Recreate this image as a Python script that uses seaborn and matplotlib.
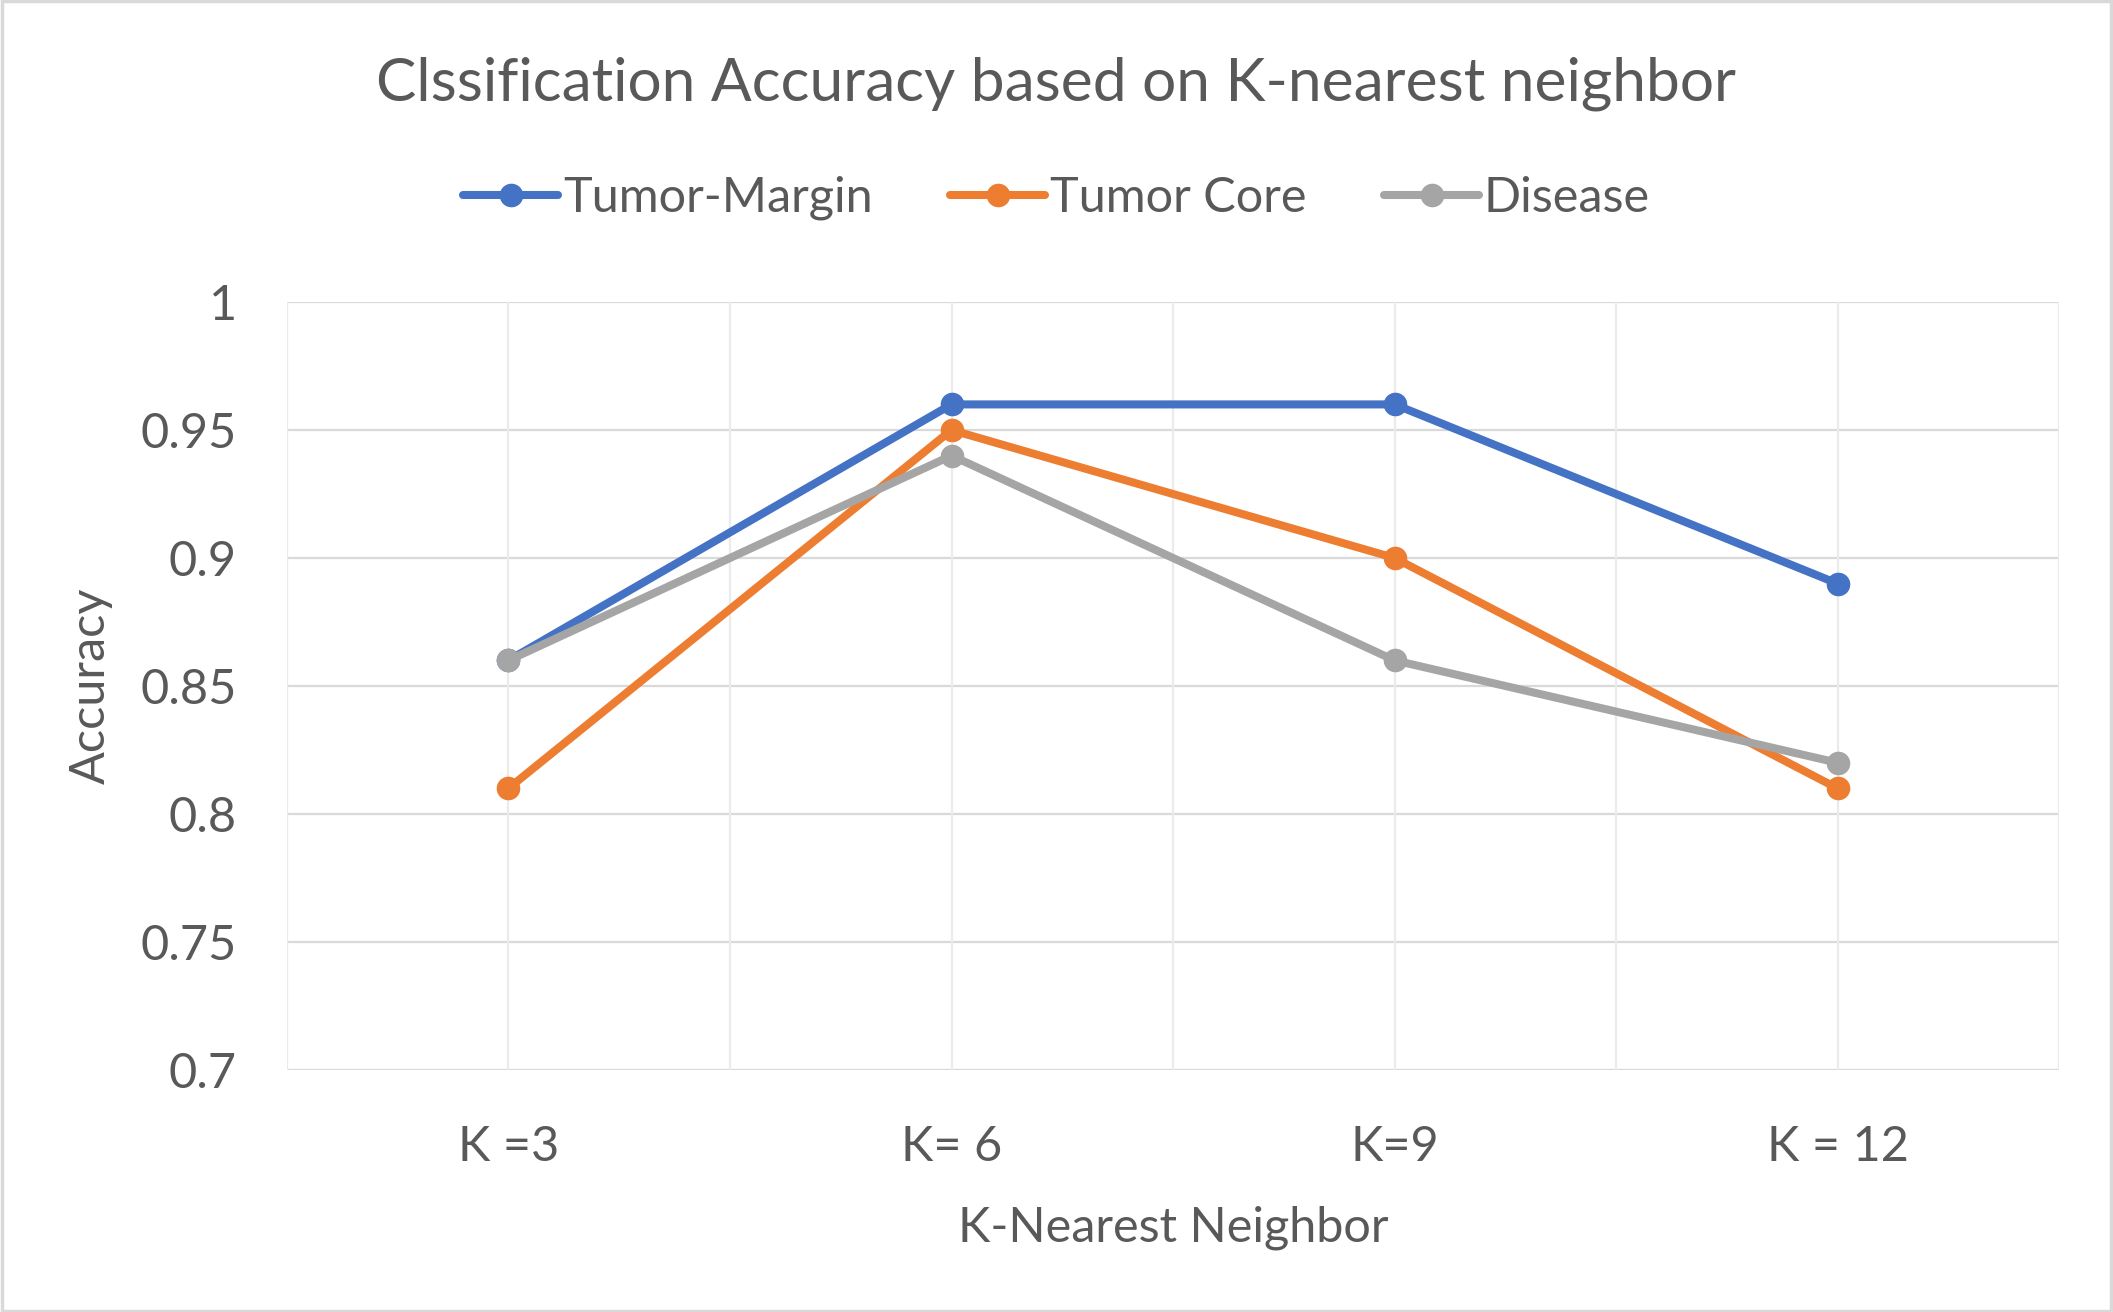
import pandas as pd
import matplotlib.pyplot as plt
from matplotlib.lines import Line2D
import seaborn as sns

k_labels = ["K =3", "K= 6", "K=9", "K = 12"]
series_names = ["Tumor-Margin", "Tumor Core", "Disease"]
tumor_margin = [0.86, 0.96, 0.96, 0.89]
tumor_core = [0.81, 0.95, 0.90, 0.81]
disease = [0.86, 0.94, 0.86, 0.82]
y_ticks = [0.7, 0.75, 0.8, 0.85, 0.9, 0.95, 1]
y_tick_labels = ["0.7", "0.75", "0.8", "0.85", "0.9", "0.95", "1"]
colors = ["#4472C4", "#ED7D31", "#A5A5A5"]

#Long-form table for seaborn
rows = []
for name, vals in zip(series_names, [tumor_margin, tumor_core, disease]):
    for k, v in zip(k_labels, vals):
        rows.append({"K": k, "Accuracy": v, "Series": name})
df = pd.DataFrame(rows)

sns.set_theme(style="white")
plt.rcParams["font.family"] = ["Lato", "DejaVu Sans"]
txt = "#595959"

fig = plt.figure(figsize=(21.13, 13.12), dpi=100)
ax = fig.add_axes([0.1358, 0.1845, 0.8387, 0.5853])

#Gridlines: horizontal every 0.05, vertical at categories and between them
for y in y_ticks:
    ax.axhline(y, color="#D9D9D9", lw=1.6, zorder=0)
for i in range(9):
    ax.axvline(-0.5 + i * 0.5, color="#EBEBEB", lw=1.6, zorder=0)

sns.lineplot(data=df, x="K", y="Accuracy", hue="Series", palette=colors,
             marker="o", markersize=17, markeredgewidth=0, linewidth=5.8,
             legend=False, ax=ax, zorder=3)

ax.set_xlim(-0.5, 3.5)
ax.set_ylim(0.7, 1.0)
ax.set_yticks(y_ticks)
ax.set_yticklabels(y_tick_labels)
ax.set_xticks(range(len(k_labels)))
ax.set_xticklabels(k_labels)
ax.tick_params(axis="both", length=0, labelsize=35, colors=txt)
ax.tick_params(axis="x", pad=40)
ax.tick_params(axis="y", pad=36)
for s in ax.spines.values():
    s.set_visible(False)

ax.set_xlabel("K-Nearest Neighbor", fontsize=35, color=txt, labelpad=26)
ax.set_ylabel("Accuracy", fontsize=35, color=txt, labelpad=20)

fig.suptitle("Clssification Accuracy based on K-nearest neighbor",
             fontsize=43.5, color=txt, y=0.957)

handles = [Line2D([0], [0], color=c, lw=5.8, marker="o", markersize=17,
                  markeredgewidth=0) for c in colors]
fig.legend(handles, series_names, loc="center", bbox_to_anchor=(0.5, 0.849),
           ncol=3, frameon=False, fontsize=35, labelcolor=txt,
           handlelength=1.95, handletextpad=0.1, columnspacing=1.6)

#Light border round the chart
fig.patches.append(plt.Rectangle((0.001, 0.001), 0.998, 0.998, transform=fig.transFigure,
                                 fill=False, edgecolor="#D9D9D9", lw=2.5))

fig.savefig("out.png", dpi=100)
